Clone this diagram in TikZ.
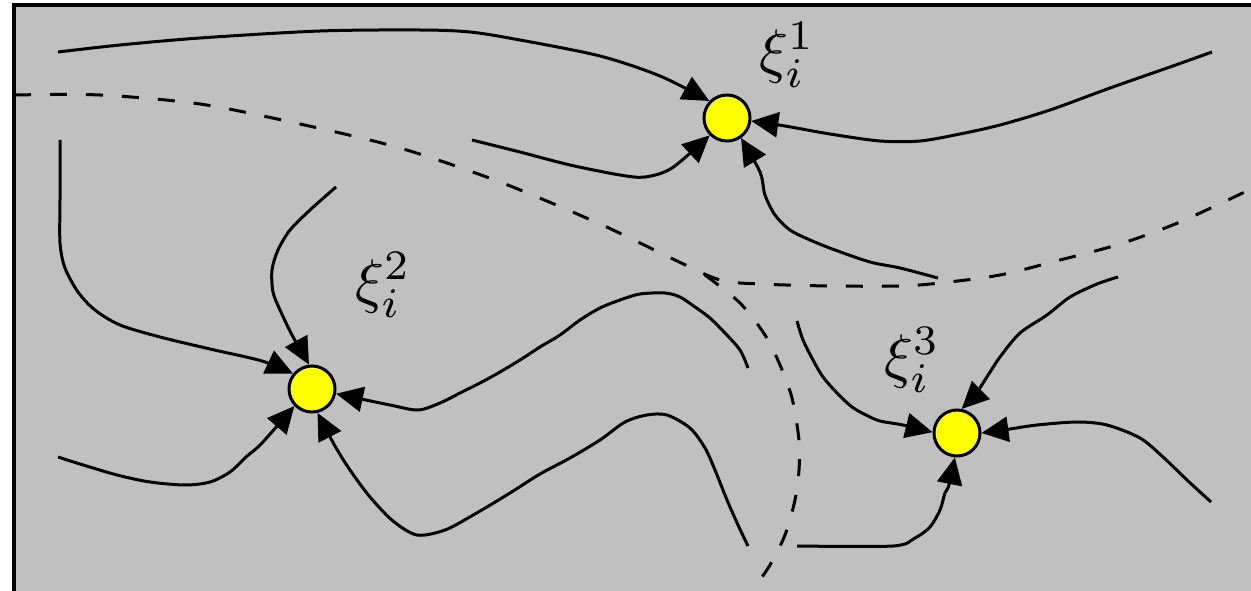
\documentclass[tikz,border=0pt]{standalone}
\usetikzlibrary{arrows.meta}
\definecolor{bggray}{RGB}{192,192,192}
\definecolor{dotyellow}{RGB}{255,255,0}
\newcommand{\biglbl}[1]{\scalebox{6}{$#1$}}
\begin{document}
\begin{tikzpicture}[x=1pt,y=-1pt,
  curve/.style={line width=3pt, draw=black},
  arr/.style={curve, -{Triangle[length=27pt,width=25pt]}},
  sep/.style={line width=3pt, dash pattern=on 17pt off 19pt},
  dot/.style={circle, fill=dotyellow, draw=black, line width=3pt, minimum size=46pt, inner sep=0pt},
  lbl/.style={inner sep=0pt}]
\useasboundingbox (0,0) rectangle (1251,591);
\fill[bggray] (12,3) rectangle (1251,591);
\draw[line width=4pt] (14,591) -- (14,5) -- (1251,5);

\node[dot] (n1) at (727,118) {};
\node[dot] (n2) at (312,389) {};
\node[dot] (n3) at (957,433) {};

\node[lbl] (l1) at (787,55) {\biglbl{\xi_i^1}};
\node[lbl] (l2) at (383,285) {\biglbl{\xi_i^2}};
\node[lbl] (l3) at (912,360) {\biglbl{\xi_i^3}};

% dashed separatrices
\draw[sep] plot[smooth] coordinates {(14,95) (100,95) (200,104) (300,124) (400,148) (500,182) (600,224) (675,260) (720,280) (760,284) (830,286) (900,286) (940,283) (1000,275) (1060,260) (1120,244) (1180,222) (1251,189)};
\draw[sep] plot[smooth] coordinates {(705,275) (740,303) (765,335) (780,365) (792,398) (799,440) (799,470) (795,500) (785,535) (770,565) (752,591)};

% towards xi^1
\draw[arr] plot[smooth] coordinates {(58,52) (120,45) (200,38) (320,31) (420,30) (470,32) (520,40) (600,56) (660,76) (n1.136)};
\draw[arr] plot[smooth] coordinates {(472,140) (520,152) (570,165) (620,175) (645,177) (672,168) (n1.225)};
\draw[arr] plot[smooth] coordinates {(1212,52) (1170,67) (1110,88) (1050,110) (1000,125) (960,134) (920,141) (880,141) (830,134) (785,126) (n1.353)};
\draw[arr] plot[smooth] coordinates {(938,278) (900,268) (870,262) (835,250) (810,240) (790,230) (775,215) (765,195) (760,172) (n1.305)};

% towards xi^2
\draw[arr] plot[smooth] coordinates {(60,140) (60,200) (60,243) (65,268) (78,292) (95,310) (120,325) (160,337) (210,349) (262,361) (n2.141)};
\draw[arr] plot[smooth] coordinates {(336,187) (310,210) (290,230) (278,250) (272,270) (273,292) (280,310) (292,335) (302,352) (n2.97)};
\draw[arr] plot[smooth] coordinates {(748,368) (740,350) (725,333) (710,318) (695,307) (680,297) (665,293) (640,294) (620,300) (600,308) (580,320) (560,335) (540,347) (520,360) (500,372) (480,383) (460,393) (440,403) (418,410) (390,405) (n2.349)};
\draw[arr] plot[smooth] coordinates {(748,546) (738,525) (727,500) (715,470) (705,448) (690,428) (667,415) (647,415) (625,422) (600,440) (570,458) (540,474) (510,493) (475,514) (445,530) (417,535) (393,521) (370,497) (350,470) (335,446) (n2.283)};
\draw[arr] plot[smooth] coordinates {(58,457) (80,464) (117,475) (150,482) (185,485) (210,482) (230,472) (246,457) (262,443) (n2.224)};

% towards xi^3
\draw[arr] plot[smooth] coordinates {(797,321) (803,340) (813,360) (823,377) (838,394) (852,407) (866,415) (880,421) (903,425) (n3.178)};
\draw[arr] plot[smooth] coordinates {(1118,277) (1097,284) (1070,297) (1047,315) (1020,333) (1000,357) (985,380) (975,395) (n3.79)};
\draw[arr] plot[smooth] coordinates {(1211,502) (1187,480) (1163,457) (1140,438) (1107,425) (1077,422) (1037,425) (1010,429) (n3.0)};
\draw[arr] plot[smooth] coordinates {(797,546) (893,546) (915,538) (930,527) (940,510) (945,493) (949,485) (n3.265)};
\end{tikzpicture}
\end{document}
